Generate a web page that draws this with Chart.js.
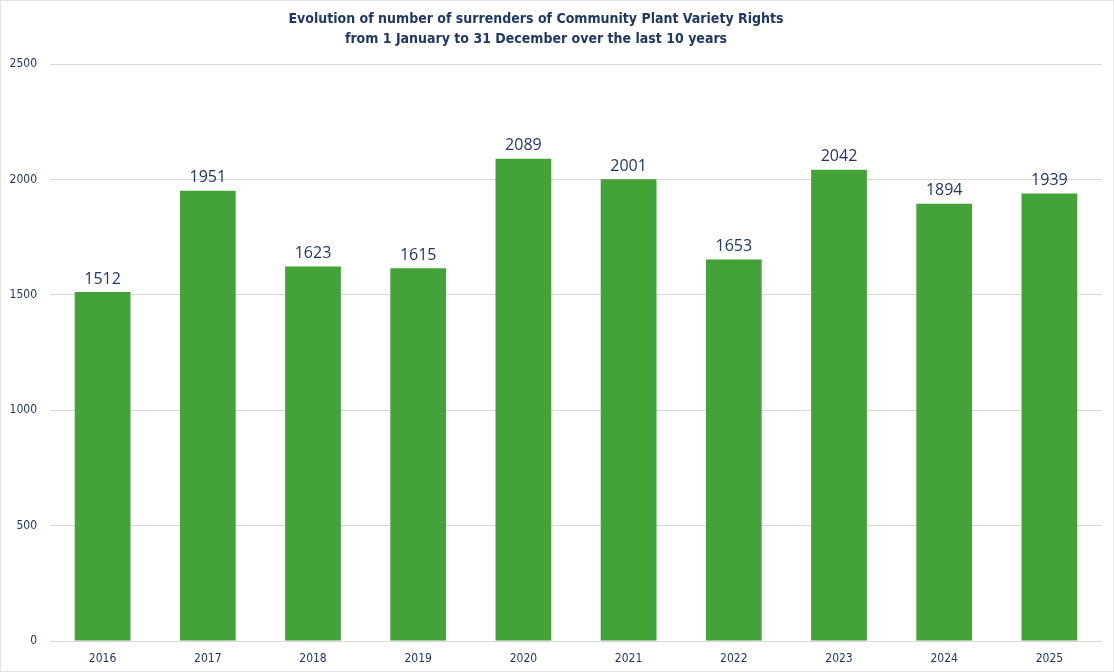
<!DOCTYPE html>
<html>
<head>
<meta charset="utf-8">
<script src="https://cdn.jsdelivr.net/npm/chart.js@4"></script>
<style>
    body { margin: 0; background: #fff; }
    #wrap { width: 1114px; height: 672px; }
</style>
</head>
<body>
<div id="wrap"><canvas id="chart" width="1114" height="672"></canvas></div>
<script>
// Surrenders of Community Plant Variety Rights per year
const years = ['2016', '2017', '2018', '2019', '2020', '2021', '2022', '2023', '2024', '2025'];
const surrenders = [1512, 1951, 1623, 1615, 2089, 2001, 1653, 2042, 1894, 1939];
const yTicks = [0, 500, 1000, 1500, 2000, 2500];
const titleLines = ['Evolution of number of surrenders of Community Plant Variety Rights',
                    'from 1 January to 31 December over the last 10 years'];

const navy = '#1F3864';
const fontFamily = '"DejaVu Sans Condensed", "DejaVu Sans", sans-serif';
const axisFont = { family: fontFamily, size: 12 };

// white background + thin frame
const framePlugin = {
    id: 'frame',
    beforeDraw(chart) {
        const c = chart.ctx;
        c.save();
        c.fillStyle = '#fff';
        c.fillRect(0, 0, chart.width, chart.height);
        c.strokeStyle = '#e3e3e3';
        c.lineWidth = 1;
        c.strokeRect(0.5, 0.5, chart.width - 1, chart.height - 1);
        c.restore();
    }
};

// title sits a bit left of the canvas centre, like the original
const titlePlugin = {
    id: 'offsetTitle',
    afterDraw(chart) {
        const c = chart.ctx;
        c.save();
        c.font = 'bold 14px ' + fontFamily;
        c.fillStyle = navy;
        c.textAlign = 'center';
        c.textBaseline = 'middle';
        titleLines.forEach((line, i) => c.fillText(line, 536, 19 + i * 20));
        c.restore();
    }
};

// value labels above the bars
const valueLabels = {
    id: 'valueLabels',
    afterDatasetsDraw(chart) {
        const c = chart.ctx;
        const meta = chart.getDatasetMeta(0);
        c.save();
        c.font = '16px "Open Sans", sans-serif';
        c.fillStyle = navy;
        c.textAlign = 'center';
        c.textBaseline = 'bottom';
        meta.data.forEach((bar, i) => {
            c.fillText(surrenders[i], bar.x, bar.y - 5);
        });
        c.restore();
    }
};

new Chart(document.getElementById('chart'), {
    type: 'bar',
    data: {
        labels: years,
        datasets: [{
            data: surrenders,
            backgroundColor: '#43A338',
            categoryPercentage: 1,
            barPercentage: 0.53
        }]
    },
    options: {
        responsive: false,
        animation: false,
        layout: { padding: { left: 8, right: 12, top: 64, bottom: 6 } },
        plugins: {
            legend: { display: false },
            tooltip: { enabled: false },
            title: { display: false }
        },
        scales: {
            x: {
                afterFit(axis) { axis.height = 25; },
                grid: { display: false, drawTicks: false },
                border: { display: false },
                ticks: { color: navy, padding: 11, font: axisFont }
            },
            y: {
                min: 0,
                max: 2500,
                afterBuildTicks(axis) {
                    axis.ticks = yTicks.map(v => ({ value: v }));
                },
                afterFit(axis) { axis.width = 42; },
                grid: { color: '#d9d9d9', drawTicks: false },
                border: { display: false },
                ticks: {
                    color: navy,
                    padding: 13,
                    font: axisFont,
                    callback: v => String(v)
                }
            }
        }
    },
    plugins: [framePlugin, titlePlugin, valueLabels]
});
</script>
</body>
</html>
